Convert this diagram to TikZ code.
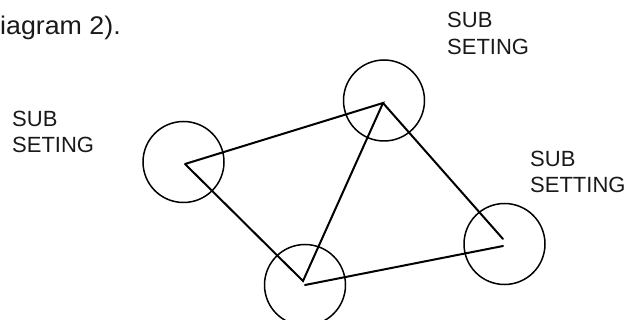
\documentclass[tikz,border=0pt]{standalone}
\usepackage{fontspec}
\setmainfont{Liberation Sans}
\begin{document}
\begin{tikzpicture}[x=1pt,y=-1pt,
  ring/.style={draw, circle, line width=1.5pt, minimum size=81pt, inner sep=0pt},
  edge/.style={line width=2pt, line cap=round},
  lbl/.style={anchor=base west, inner sep=0pt, font=\fontsize{22}{26}\selectfont, text=black!90}]
\useasboundingbox (0,0) rectangle (626,320);
\node[lbl, font=\fontsize{25.5}{30}\selectfont, xscale=1.05] (cap) at (0,35) {iagram 2).};
% labels
\node[lbl] (t1) at (447,28) {SUB};
\node[lbl] (t2) at (447,55) {SETING};
\node[lbl] (l1) at (12,127) {SUB};
\node[lbl] (l2) at (12,153) {SETING};
\node[lbl] (r1) at (530,167) {SUB};
\node[lbl] (r2) at (530,193) {SETTING};
% circles
\node[ring] (cl) at (183.5,162) {};
\node[ring] (ct) at (384,100.5) {};
\node[ring] (cb) at (305,285) {};
\node[ring] (cr) at (504.5,244) {};
% vertices
\coordinate (L) at (185,164);
\coordinate (T) at (383,103);
\coordinate (B1) at (303,281);
\coordinate (B3) at (305,285);
\coordinate (R1) at (503,239);
\coordinate (R2) at (503,246);
\draw[edge] (L) -- (T) -- (B1) -- (L);
\draw[edge] (T) -- (R1);
\draw[edge] (B3) -- (R2);
\end{tikzpicture}
\end{document}
